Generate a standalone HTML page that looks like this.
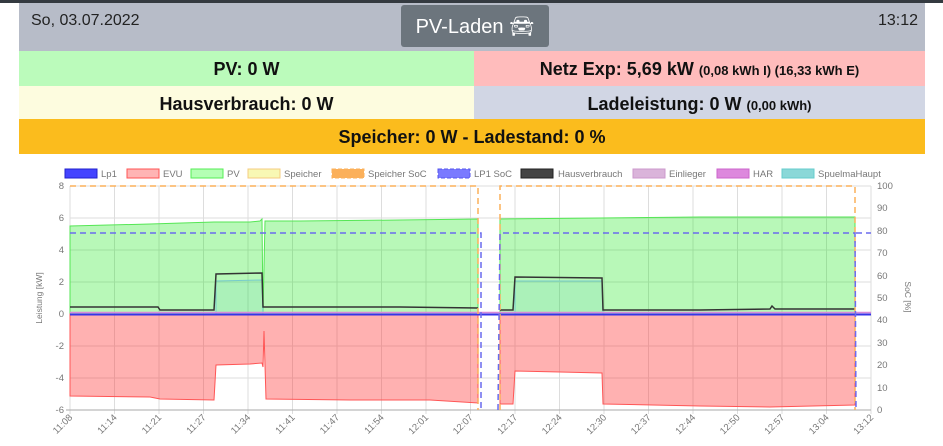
<!DOCTYPE html>
<html><head><meta charset="utf-8"><style>
*{margin:0;padding:0;box-sizing:border-box}
body{width:943px;height:446px;background:#fff;font-family:"Liberation Sans",sans-serif;overflow:hidden;position:relative}
.top{position:absolute;left:0;top:0;width:943px;height:3px;background:#343a40}
.box{position:absolute;left:19px;width:906px}
.hdr{top:3px;height:48px;background:#b7bcc8}
.hdr .d{position:absolute;left:12px;top:9px;font-size:16px;color:#222}
.hdr .t{position:absolute;right:7px;top:9px;font-size:16px;color:#222}
.btn{position:absolute;left:382px;top:2px;width:148px;height:42px;background:#6c757d;border-radius:3px;color:#fff;font-size:20px;text-align:center;line-height:44px}
.cell{position:absolute;text-align:center;font-weight:bold;font-size:18px;color:#111}
.cell small{font-size:13px}
</style></head><body>
<div class="top"></div>
<div class="box hdr"><span class="d">So, 03.07.2022</span><div class="btn">PV-Laden &#x1F698;&#xFE0E;</div><span class="t">13:12</span></div>
<div class="cell" style="left:19px;top:51px;width:455px;height:35px;line-height:37px;background:#bbfbbb">PV: 0 W</div>
<div class="cell" style="left:474px;top:51px;width:451px;height:35px;line-height:37px;background:#ffbcbc">Netz Exp: 5,69 kW <small>(0,08 kWh I) (16,33 kWh E)</small></div>
<div class="cell" style="left:19px;top:86px;width:455px;height:33px;line-height:36px;background:#fdfcdf">Hausverbrauch: 0 W</div>
<div class="cell" style="left:474px;top:86px;width:451px;height:33px;line-height:36px;background:#d1d6e4">Ladeleistung: 0 W <small>(0,00 kWh)</small></div>
<div class="cell" style="left:19px;top:119px;width:906px;height:35px;line-height:37px;background:#fbbc1d">Speicher: 0 W - Ladestand: 0 %</div>
<svg style="position:absolute;left:0;top:0" width="943" height="446" font-family="Liberation Sans, sans-serif" font-size="9.5" fill="#777">
<g stroke="#ddd" stroke-width="1">
<line x1="70" y1="186" x2="871" y2="186"/><line x1="70" y1="218" x2="871" y2="218"/><line x1="70" y1="250" x2="871" y2="250"/><line x1="70" y1="282" x2="871" y2="282"/><line x1="70" y1="314" x2="871" y2="314"/><line x1="70" y1="346" x2="871" y2="346"/><line x1="70" y1="378" x2="871" y2="378"/>
<line x1="70" y1="186" x2="70" y2="414"/><line x1="114.5" y1="186" x2="114.5" y2="414"/><line x1="159" y1="186" x2="159" y2="414"/><line x1="203.5" y1="186" x2="203.5" y2="414"/><line x1="248" y1="186" x2="248" y2="414"/><line x1="292.5" y1="186" x2="292.5" y2="414"/><line x1="337" y1="186" x2="337" y2="414"/><line x1="381.5" y1="186" x2="381.5" y2="414"/><line x1="426" y1="186" x2="426" y2="414"/><line x1="470.5" y1="186" x2="470.5" y2="414"/><line x1="515" y1="186" x2="515" y2="414"/><line x1="559.5" y1="186" x2="559.5" y2="414"/><line x1="604" y1="186" x2="604" y2="414"/><line x1="648.5" y1="186" x2="648.5" y2="414"/><line x1="693" y1="186" x2="693" y2="414"/><line x1="737.5" y1="186" x2="737.5" y2="414"/><line x1="782" y1="186" x2="782" y2="414"/><line x1="826.5" y1="186" x2="826.5" y2="414"/><line x1="871" y1="186" x2="871" y2="414"/>
</g>
<line x1="66" y1="410" x2="871" y2="410" stroke="#aaa"/>
<path d="M70,314 L70,226 L150,224 L214,222 L250,222 L260,221 L262,219 L263,314 L265,221 L300,221 L400,220 L478,219 L478,314 Z" fill="rgba(0,230,0,0.28)" stroke="#55e655" stroke-width="1"/>
<path d="M500,314 L500,219 L600,218 L700,217 L855,217 L855,314 Z" fill="rgba(0,230,0,0.28)" stroke="#55e655" stroke-width="1"/>
<path d="M70,314 L70,396 L150,397 L160,399 L214,400 L216,365 L250,364 L262,363 L263,367 L264,331 L266,399 L350,400 L430,400 L478,403 L478,314 Z" fill="rgba(255,60,60,0.4)" stroke="#f55" stroke-width="1"/>
<path d="M500,314 L500,404 L513,404 L515,371 L560,372 L602,373 L603,404 L700,406 L770,407 L855,405 L855,314 Z" fill="rgba(255,60,60,0.4)" stroke="#f55" stroke-width="1"/>
<path d="M216,314 L216,281 L262,280 L263,314 M515,314 L515,281 L602,281 L603,314" fill="rgba(80,200,200,0.12)" stroke="#7cc" stroke-width="1"/>
<path d="M70,307 L158,307 L160,310 L214,310 L216,274 L262,273 L263,307 L400,307 L478,308 M500,310 L513,310 L515,277 L602,278 L603,310 L700,310 L770,309 L772,306 L775,309 L855,309" fill="none" stroke="#333" stroke-width="1.5"/>
<line x1="70" y1="312.5" x2="871" y2="312.5" stroke="#d88ad8" stroke-width="1.5"/>
<line x1="70" y1="314.5" x2="871" y2="314.5" stroke="#3535e8" stroke-width="2"/>
<path d="M70,186 L478,186 L478,410 M500,410 L500,186 L855,186 L855,410" fill="none" stroke="#fbb05a" stroke-width="1.5" stroke-dasharray="6,4"/>
<path d="M70,233 L478,233 L481,233 L481,410 M498,410 L500,233 L855,233 L856,410 M856,233 L871,233" fill="none" stroke="#6a6aee" stroke-width="1.5" stroke-dasharray="6,4"/>
<g text-anchor="end">
<text x="64" y="189">8</text><text x="64" y="221">6</text><text x="64" y="253">4</text><text x="64" y="285">2</text><text x="64" y="317">0</text><text x="64" y="349">-2</text><text x="64" y="381">-4</text><text x="64" y="413">-6</text>
</g>
<g>
<text x="877" y="189">100</text><text x="877" y="211">90</text><text x="877" y="234">80</text><text x="877" y="256">70</text><text x="877" y="279">60</text><text x="877" y="301">50</text><text x="877" y="323">40</text><text x="877" y="346">30</text><text x="877" y="368">20</text><text x="877" y="391">10</text><text x="877" y="413">0</text>
</g>
<text transform="translate(42,298) rotate(-90)" text-anchor="middle" font-size="8.5">Leistung [kW]</text>
<text transform="translate(905,297) rotate(90)" text-anchor="middle" font-size="8.5">SoC [%]</text>
<g text-anchor="end" font-size="9.5">
<text transform="translate(73,418) rotate(-45)">11:08</text><text transform="translate(117.5,418) rotate(-45)">11:14</text><text transform="translate(162,418) rotate(-45)">11:21</text><text transform="translate(206.5,418) rotate(-45)">11:27</text><text transform="translate(251,418) rotate(-45)">11:34</text><text transform="translate(295.5,418) rotate(-45)">11:41</text><text transform="translate(340,418) rotate(-45)">11:47</text><text transform="translate(384.5,418) rotate(-45)">11:54</text><text transform="translate(429,418) rotate(-45)">12:01</text><text transform="translate(473.5,418) rotate(-45)">12:07</text><text transform="translate(518,418) rotate(-45)">12:17</text><text transform="translate(562.5,418) rotate(-45)">12:24</text><text transform="translate(607,418) rotate(-45)">12:30</text><text transform="translate(651.5,418) rotate(-45)">12:37</text><text transform="translate(696,418) rotate(-45)">12:44</text><text transform="translate(740.5,418) rotate(-45)">12:50</text><text transform="translate(785,418) rotate(-45)">12:57</text><text transform="translate(829.5,418) rotate(-45)">13:04</text><text transform="translate(874,418) rotate(-45)">13:12</text>
</g>
<g font-size="9.5">
<rect x="65" y="169" width="32" height="9" fill="#4444ff" stroke="#2222cc"/><text x="101" y="177">Lp1</text>
<rect x="127" y="169" width="32" height="9" fill="#ffb4b4" stroke="#f55"/><text x="163" y="177">EVU</text>
<rect x="191" y="169" width="32" height="9" fill="#b4ffb4" stroke="#5e5"/><text x="227" y="177">PV</text>
<rect x="248" y="169" width="32" height="9" fill="#f8f8b4" stroke="#f5cc80"/><text x="284" y="177">Speicher</text>
<rect x="332" y="169" width="32" height="9" fill="#fbb05a" stroke="#fbb05a" stroke-dasharray="4,2"/><text x="368" y="177">Speicher SoC</text>
<rect x="438" y="169" width="32" height="9" fill="#7a7aff" stroke="#5555ee" stroke-dasharray="4,2"/><text x="474" y="177">LP1 SoC</text>
<rect x="521" y="169" width="32" height="9" fill="#444" stroke="#222"/><text x="558" y="177">Hausverbrauch</text>
<rect x="633" y="169" width="32" height="9" fill="#dab4da" stroke="#c9c"/><text x="669" y="177">Einlieger</text>
<rect x="717" y="169" width="32" height="9" fill="#dd88dd" stroke="#c6c"/><text x="753" y="177">HAR</text>
<rect x="782" y="169" width="32" height="9" fill="#8ad8d8" stroke="#6cc"/><text x="818" y="177">SpuelmaHaupt</text>
</g>
</svg>
</body></html>
